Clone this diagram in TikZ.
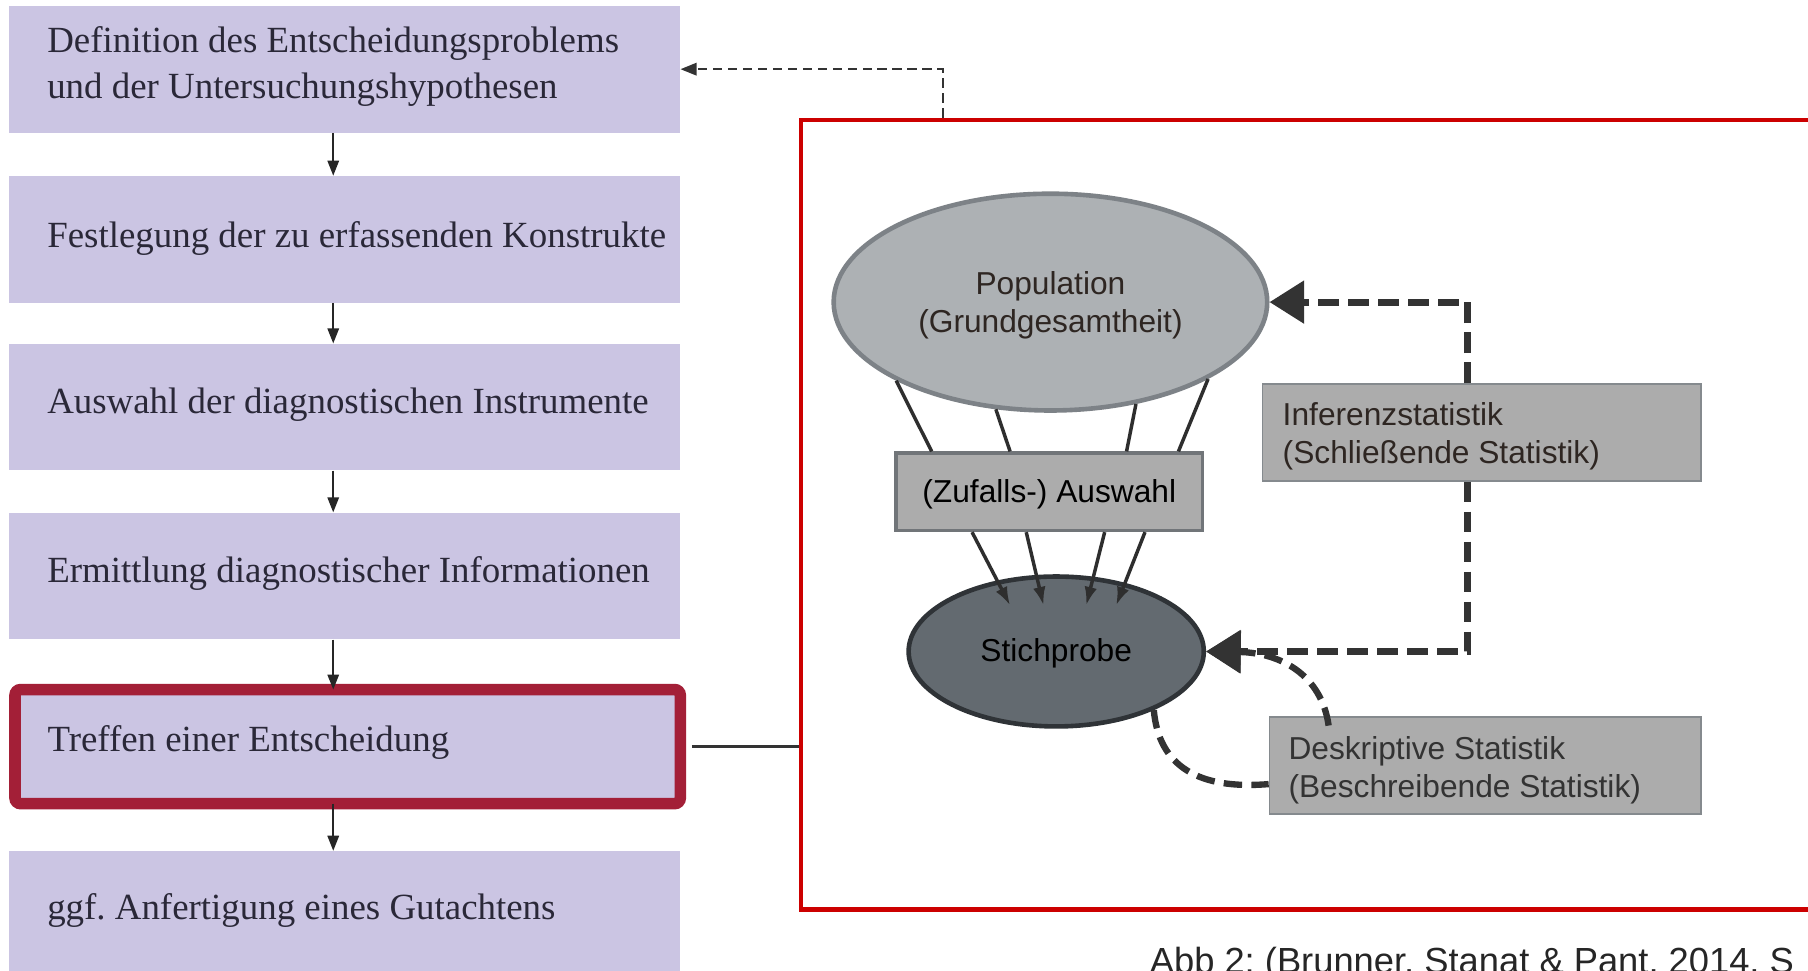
\documentclass[tikz,border=0pt]{standalone}
\usepackage{fontspec}
\setmainfont{Liberation Serif}
\newfontfamily\arialf{Liberation Sans}
\usetikzlibrary{arrows.meta,calc,shapes.geometric}
\frenchspacing
\definecolor{lav}{HTML}{CBC5E3}
\definecolor{lavtext}{HTML}{2A2838}
\definecolor{framered}{HTML}{CC0000}
\definecolor{selred}{HTML}{A31F37}
\definecolor{popfill}{HTML}{ADB1B4}
\definecolor{popdraw}{HTML}{7D8287}
\definecolor{stfill}{HTML}{636A70}
\definecolor{stdraw}{HTML}{2F3337}
\definecolor{boxfill}{HTML}{ACACAC}
\definecolor{boxdraw}{HTML}{858A8E}
\definecolor{dk}{HTML}{333333}
\definecolor{brtext}{HTML}{2E2622}
\tikzset{
  lbox/.style={fill=lav, minimum width=582pt, minimum height=110pt, inner sep=0pt},
  ltext/.style={anchor=west, align=left, text=lavtext, inner sep=0pt,
    font=\fontsize{32}{40}\selectfont},
  thinarrow/.style={draw=black!85, line width=1.3pt, -{Triangle[length=13pt,width=10pt]}},
  gbox/.style={fill=boxfill, draw=boxdraw, line width=1.5pt, inner sep=0pt},
  stext/.style={font=\arialf\fontsize{27.5}{33}\selectfont},
  rope/.style={draw=dk!90!black, line width=3pt},
  ropearrow/.style={draw=dk!90!black, line width=3pt, -{Latex[length=16pt,width=11pt]}},
  bigdash/.style={draw=dk, line width=6pt, dash pattern=on 18pt off 8pt,
    -{Triangle[length=30pt,width=36pt]}},
  curvdash/.style={draw=dk, line width=5.5pt, dash pattern=on 16pt off 8pt}
}
\begin{document}
\begin{tikzpicture}[x=1pt,y=-1pt]
\useasboundingbox (0,0) rectangle (1568,842);
\fill[white] (0,0) rectangle (1568,842);

% left column boxes
\node[lbox] (b1) at (299,60) {};
\node[lbox] (b2) at (299,207.5) {};
\node[lbox] (b3) at (299,353) {};
\node[lbox] (b4) at (299,499.5) {};
\node[lbox, draw=selred, line width=10pt, rounded corners=5pt,
      minimum width=577pt, minimum height=99pt] (b5) at (301.5,647.5) {};
\node[lbox, minimum height=106pt] (b6) at (299,791) {};

\node[ltext] (t1) at ([xshift=33pt,yshift=2pt]b1.west) {Definition des Entscheidungsproblems\\und der Untersuchungshypothesen};
\node[ltext] (t2) at ([xshift=33pt,yshift=1pt]b2.west) {Festlegung der zu erfassenden Konstrukte};
\node[ltext] (t3) at ([xshift=33pt,yshift=2pt]b3.west) {Auswahl der diagnostischen Instrumente};
\node[ltext] (t4) at ([xshift=33pt,yshift=2pt]b4.west) {Ermittlung diagnostischer Informationen};
\node[ltext] (t5) at ([xshift=33pt,yshift=4pt]b5.west) {Treffen einer Entscheidung};
\node[ltext] (t6) at ([xshift=33pt,yshift=1pt]b6.west) {ggf. Anfertigung eines Gutachtens};

\draw[thinarrow] ([xshift=-10pt]b1.south) -- ([xshift=-10pt]b2.north);
\draw[thinarrow] ([xshift=-10pt]b2.south) -- ([xshift=-10pt]b3.north);
\draw[thinarrow] ([xshift=-10pt]b3.south) -- ([xshift=-10pt]b4.north);
\draw[thinarrow] ([xshift=-10pt]b4.south) -- ([xshift=-12.5pt,yshift=-5pt]b5.north);
\draw[thinarrow] ([xshift=-12.5pt,yshift=5pt]b5.south) -- ([xshift=-10pt]b6.north);

% red frame
\node[draw=framered, line width=3.5pt, minimum width=1000pt, minimum height=685pt,
      anchor=north west, inner sep=0pt] (frame) at (693,102) {};
\draw[draw=black!80, line width=2.5pt] ([xshift=5pt]b5.east) -- (b5.east -| frame.west);
\coordinate (fx) at (818,102);
\draw[draw=dk, line width=1.3pt, dash pattern=on 8pt off 5pt,
      -{Triangle[length=14pt,width=11pt]}] (fx) |- (b1.east);

% population and sample
\node[ellipse, fill=popfill, draw=popdraw, line width=4pt,
      minimum width=376pt, minimum height=188pt, inner sep=0pt] (pop) at (911,262) {};
\node[stext, text=brtext, align=center] (poptext) at (911,265) {Population\\(Grundgesamtheit)};

\node[gbox, draw=popdraw!90!black, line width=3pt, minimum width=266pt, minimum height=67pt] (aw) at (910,426.5) {};
\node[stext, text=black] (awtext) at (910,429) {(Zufalls-) Auswahl};

\node[ellipse, fill=stfill, draw=stdraw, line width=4pt,
      minimum width=256pt, minimum height=130pt, inner sep=0pt] (st) at (916,565) {};
\node[stext, text=black] (sttext) at (916,567) {Stichprobe};

\draw[rope] (pop.207) -- ([xshift=-102pt]aw.north);
\draw[rope] (pop.243) -- ([xshift=-34pt]aw.north);
\draw[rope] (pop.310) -- ([xshift=67pt]aw.north);
\draw[rope] (pop.334) -- ([xshift=112pt]aw.north);

\draw[ropearrow] ([xshift=-67pt]aw.south) -- ([shift={(-40,-40)}]st.center);
\draw[ropearrow] ([xshift=-20pt]aw.south) -- ([shift={(-11,-40)}]st.center);
\draw[ropearrow] ([xshift=48pt]aw.south) -- ([shift={(26,-40)}]st.center);
\draw[ropearrow] ([xshift=83pt]aw.south) -- ([shift={(52,-40)}]st.center);

% statistics boxes
\node[gbox, minimum width=380pt, minimum height=84pt] (inf) at (1285,375) {};
\node[stext, text=brtext, anchor=west, align=left, inner sep=0pt] (inftext) at ([xshift=18pt,yshift=-3pt]inf.west)
  {Inferenzstatistik\\(Schließende Statistik)};
\node[gbox, minimum width=374pt, minimum height=84pt] (ds) at (1288,664) {};
\node[stext, text=black!80, anchor=west, align=left, inner sep=0pt] (dstext) at ([xshift=17pt,yshift=-4pt]ds.west)
  {Deskriptive Statistik\\(Beschreibende Statistik)};

\draw[bigdash] ([xshift=-12pt]inf.north) |- (pop.east);
\draw[bigdash] ([xshift=-12pt]inf.south) |- (st.east);

\coordinate (dsa) at ([xshift=52pt,yshift=-8pt]ds.north west);
\draw[curvdash, -{Triangle[length=30pt,width=36pt]}] (dsa) .. controls (1146,585) and (1110,566) .. (st.east);
\draw[curvdash] (st.-31) .. controls (1005,665) and (1040,685) .. (ds.west |- 0,680);

% caption
\node[font=\arialf\fontsize{31.5}{36}\selectfont, text=black!85, anchor=base west, inner sep=0pt] (cap) at (997,844)
  {Abb 2: (Brunner, Stanat \& Pant, 2014, S};
\end{tikzpicture}
\end{document}
